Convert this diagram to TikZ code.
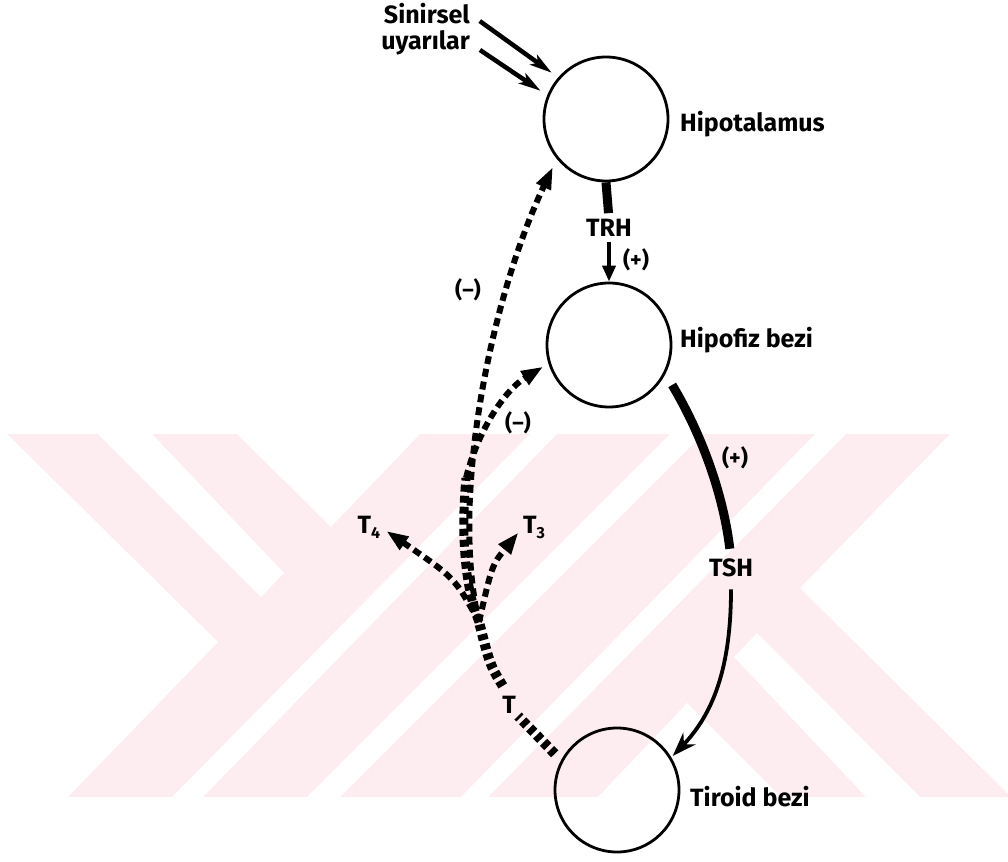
\documentclass[tikz,border=0pt]{standalone}
\usepackage{fontspec}
\setmainfont{Fira Sans}
\usetikzlibrary{arrows.meta}
\definecolor{wm}{RGB}{253,236,240}
\begin{document}
\begin{tikzpicture}[x=1pt,y=-1pt,
  lbl/.style={font=\fontsize{25}{28}\selectfont\bfseries, inner sep=0pt},
  sml/.style={font=\fontsize{22}{24}\selectfont\bfseries, inner sep=0pt},
  organ/.style={circle, draw, line width=2.8pt, minimum size=124pt, inner sep=0pt},
  trunk/.style={line width=10pt, dash pattern=on 6pt off 4pt},
  fb/.style={line width=6pt, dash pattern=on 8pt off 5pt, -{Triangle[length=22pt,width=15pt]}},
  sinarrow/.style={line width=4.5pt, -{Stealth[length=22pt,width=12pt,inset=5pt]}}
]
\useasboundingbox (0,0) rectangle (1008,861);
% watermark
\fill[wm] (0,434) rectangle (1008,797);
\fill[white] (0,434)--(7,434)--(218,642)--(68,797)--(0,797)--cycle;
\fill[white] (98,434)--(152,434)--(284,573)--(261,597)--cycle;
\fill[white] (237,434)--(420,434)--(331,527)--cycle;
\fill[white] (172,797)--(203,797)--(557,434)--(530,434)--cycle;
\fill[white] (307,797)--(340,797)--(703,434)--(670,434)--cycle;
\fill[white] (461,797)--(488,797)--(846,434)--(815,434)--cycle;
\fill[white] (1018,797)--(1011,797)--(800,588)--(950,434)--(1018,434)--cycle;
\fill[white] (920,797)--(866,797)--(734,657)--(757,633)--cycle;
\fill[white] (598,797)--(781,797)--(687,703)--cycle;

% organs
\node[organ] (hipo) at (606,119) {};
\node[organ] (hipf) at (609,345) {};
\node[organ] (tir) at (617,790) {};
\node[lbl, anchor=base west] (lhipo) at (680,132) {Hipotalamus};
\node[lbl, anchor=base west] (lhipf) at (680,347) {Hipofiz bezi};
\node[lbl, anchor=base west] (ltir) at (690,806) {Tiroid bezi};
\node[lbl, anchor=base east] (sin) at (470,24) {Sinirsel};
\node[lbl, anchor=base east] (uya) at (470,50) {uyarılar};

% hormones
\node[lbl] (trh) at (609,228) {TRH};
\node[sml] (p1) at (636,260) {(+)};
\node[lbl] (tsh) at (731,568) {TSH};
\node[sml] (p2) at (735,458) {(+)};
\node[lbl] (T) at (509,705) {T};
\node[lbl] (t4) at (369,527) {T\raisebox{-5pt}{\fontsize{16}{16}\selectfont 4}};
\node[lbl] (t3) at (534,527) {T\raisebox{-5pt}{\fontsize{16}{16}\selectfont 3}};
\node[sml] (m1) at (468,290) {(–)};
\node[sml] (m2) at (518,423) {(–)};

% neural input
\draw[sinarrow, shorten <=12pt, shorten >=8pt] (sin.east) -- (hipo.139);
\draw[sinarrow, shorten <=12pt, shorten >=8pt] (uya.east) -- (hipo.158);

% TRH
\draw[line width=9pt, shorten >=6pt] (hipo.south) -- (trh.north);
\draw[line width=3.8pt, shorten <=5pt, -{Triangle[length=16pt,width=13pt]}] (trh.south) -- (hipf.north);

% TSH
\draw[line width=9pt, shorten <=13pt, shorten >=10pt] (hipf.-27) .. controls (705,440) and (724,500) .. (tsh.north);
\draw[line width=3.8pt, shorten <=12pt, shorten >=2pt, -{Stealth[length=24pt,width=17pt]}] (tsh.south) .. controls (731,670) and (712,715) .. (tir.31);

% thyroid hormone feedback
\coordinate (J) at (479,622);
\coordinate (B) at (466,478);
\draw[trunk, shorten <=9pt, shorten >=3pt] (tir.152) -- (T.south east);
\draw[trunk, shorten <=12pt] (T.north) .. controls (490,665) .. (J);
\draw[line width=9pt, dash pattern=on 7pt off 4pt] (J) .. controls (462,580) and (462,520) .. (B);
\draw[fb, shorten >=9pt] (J) .. controls (450,500) and (490,300) .. (hipo.219);
\draw[fb, shorten >=6pt] (B) .. controls (478,430) and (505,390) .. (hipf.197);
\draw[fb, shorten >=7pt] (J) .. controls (455,578) .. (t4.east);
\draw[fb, shorten >=7pt] (J) .. controls (492,565) .. (t3.west);
\end{tikzpicture}
\end{document}
